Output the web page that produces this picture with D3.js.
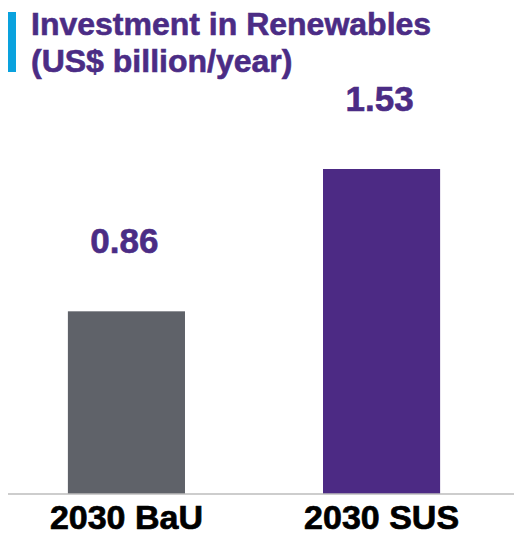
<!DOCTYPE html>
<html>
<head>
<meta charset="utf-8">
<script src="https://cdn.jsdelivr.net/npm/d3@7"></script>
<style>
  html, body { margin: 0; padding: 0; background: #fff; }
  svg { display: block; font-family: "Liberation Sans", Arial, Helvetica, sans-serif; }
</style>
</head>
<body>
<svg id="chart" width="514" height="537"></svg>
<script>
// Scenario categories and annual renewables investment (US$ billion/year)
const categories = ["2030 BaU", "2030 SUS"];
const values = [0.86, 1.53];
const barColors = ["#5f6269", "#4c2a84"];
const titleLines = ["Investment in Renewables", "(US$ billion/year)"];

const W = 514, H = 537;
const baseY = 494;
const svg = d3.select("#chart");

const x = d3.scaleBand()
  .domain(categories)
  .range([-1, 509])
  .paddingInner(0.541)
  .paddingOuter(0.27);

const y = d3.scaleLinear()
  .domain([0, 1.53])
  .range([baseY, 169]);

// Title with accent bar
svg.append("rect")
  .attr("x", 8).attr("y", 12)
  .attr("width", 8).attr("height", 60)
  .attr("fill", "#0aa2de");

svg.append("g").selectAll("text")
  .data(titleLines)
  .join("text")
  .attr("x", 31)
  .attr("y", (d, i) => 35 + i * 37)
  .attr("fill", "#4b2c85")
  .attr("stroke", "#4b2c85")
  .attr("stroke-width", 0.6)
  .attr("font-weight", "bold")
  .attr("font-size", 32)
  .text(d => d);

// Bars
svg.append("g").selectAll("rect")
  .data(values)
  .join("rect")
  .attr("x", (d, i) => x(categories[i]))
  .attr("y", d => y(d))
  .attr("width", x.bandwidth())
  .attr("height", d => baseY - y(d))
  .attr("fill", (d, i) => barColors[i]);

// Value labels
svg.append("g").selectAll("text")
  .data(values)
  .join("text")
  .attr("x", (d, i) => x(categories[i]) + x.bandwidth() / 2 - 2)
  .attr("y", d => y(d) - 58)
  .attr("text-anchor", "middle")
  .attr("fill", "#4b2c85")
  .attr("stroke", "#4b2c85")
  .attr("stroke-width", 0.6)
  .attr("font-weight", "bold")
  .attr("font-size", 35)
  .text(d => d.toFixed(2));

// Baseline
svg.append("line")
  .attr("x1", 8).attr("x2", W)
  .attr("y1", baseY).attr("y2", baseY)
  .attr("stroke", "#bdbdbd")
  .attr("stroke-width", 1.5);

// Category axis
const axis = svg.append("g")
  .attr("transform", `translate(0,${baseY})`)
  .call(d3.axisBottom(x).tickSize(0).tickPadding(11));
axis.select(".domain").remove();
axis.selectAll("text")
  .attr("font-family", "Liberation Sans, Arial, sans-serif")
  .attr("font-weight", "bold")
  .attr("font-size", 34)
  .attr("fill", "#000")
  .attr("stroke", "#000")
  .attr("stroke-width", 0.7);
</script>
</body>
</html>
